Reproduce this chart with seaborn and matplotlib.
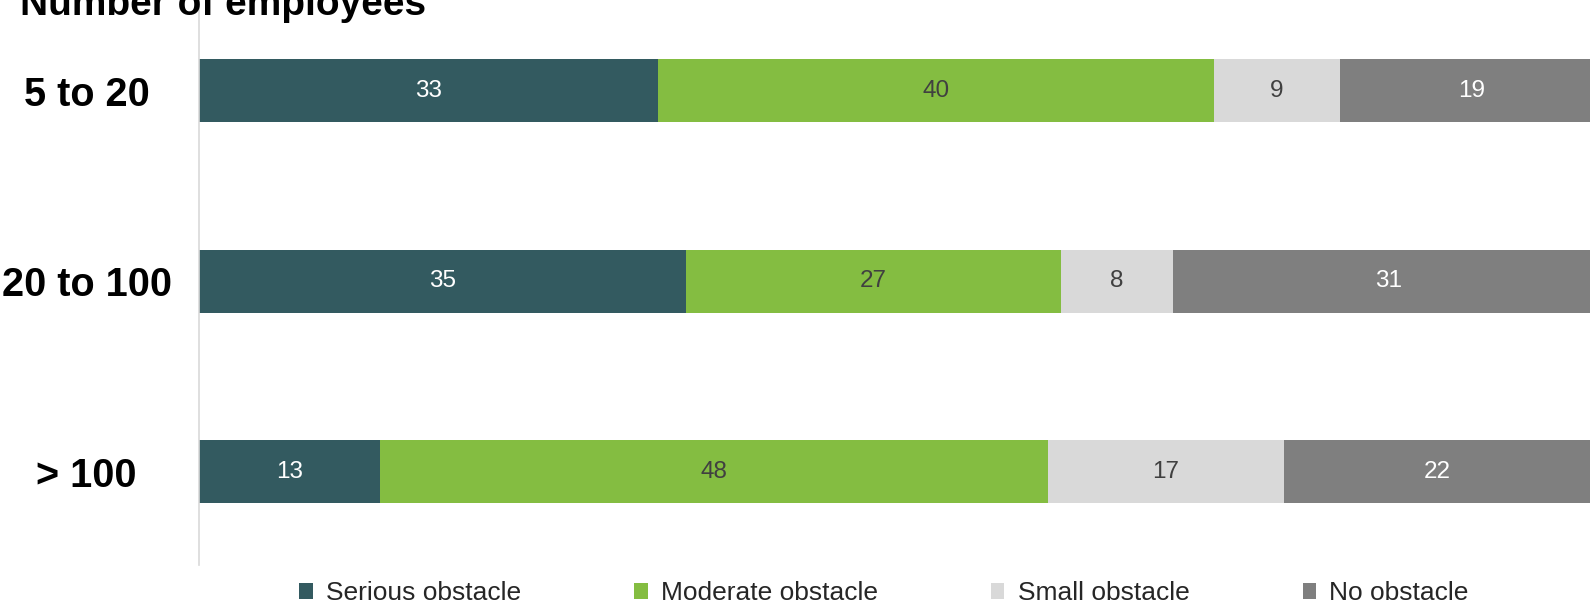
import numpy as np
import pandas as pd
import matplotlib
matplotlib.use("Agg")
import matplotlib.pyplot as plt
from matplotlib.patches import Patch
from matplotlib import font_manager
import seaborn as sns

# ---- data ----
groups = ["5 to 20", "20 to 100", "> 100"]
series = ["Serious obstacle", "Moderate obstacle", "Small obstacle", "No obstacle"]
serious = [33, 35, 13]
moderate = [40, 27, 48]
small = [9, 8, 17]
no_obst = [19, 31, 22]
title = "Number of employees"

colors = ["#335a60", "#84bd41", "#d9d9d9", "#7f7f7f"]
text_colors = ["#ffffff", "#404040", "#404040", "#ffffff"]

sns.set_theme(style="white")
names = {f.name for f in font_manager.fontManager.ttflist}
narrow = "Liberation Sans Narrow" in names
if narrow:
    fam = ["Liberation Sans Narrow", "Liberation Sans", "DejaVu Sans"]
    fs_cat, fs_title, fs_val, fs_leg, colsp = 33, 33, 22, 22, 4.0
else:
    fam = ["Liberation Sans", "DejaVu Sans"]
    fs_cat, fs_title, fs_val, fs_leg, colsp = 28.5, 28, 17.5, 19, 4.3
plt.rcParams["font.family"] = fam

fig = plt.figure(figsize=(15.9, 6.03), dpi=100)
ax = fig.add_axes([199 / 1590, 38 / 603, 1 - 199 / 1590, 565 / 603])

values = [serious, moderate, small, no_obst]
cum = np.cumsum(np.array(values), axis=0)

# draw layers from the largest cumulative down so each segment shows
for i in range(len(series) - 1, -1, -1):
    df = pd.DataFrame({"group": groups, "val": cum[i]})
    sns.barplot(data=df, x="val", y="group", order=groups, orient="h",
                color=colors[i], saturation=1, width=0.33, linewidth=0, ax=ax)

# segment labels
for i in range(len(series)):
    for j, g in enumerate(groups):
        v = values[i][j]
        center = cum[i][j] - v / 2
        ax.text(center, j, str(v), ha="center", va="center",
                color=text_colors[i], fontsize=fs_val)

ax.set_xlim(0, 100)
ax.set_ylim(2.49, -0.475)
ax.set_xlabel("")
ax.set_ylabel("")
ax.set_xticks([])
ax.set_yticks(range(len(groups)))
ax.set_yticklabels(groups, fontsize=fs_cat, fontweight="bold", color="black", ha="center")
ax.tick_params(axis="y", length=0, pad=81)
for s in ["top", "right", "bottom"]:
    ax.spines[s].set_visible(False)
ax.spines["left"].set_color("#d9d9d9")
ax.spines["left"].set_linewidth(1.2)

fig.text(20 / 1590, 1 - 15 / 603, title, ha="left", va="baseline",
         fontsize=fs_title, fontweight="bold", color="black")

handles = [Patch(facecolor=c, edgecolor="none") for c in colors]
fig.legend(handles, series, loc="center", bbox_to_anchor=(0.556, 10 / 603),
           ncol=4, frameon=False, fontsize=fs_leg, handlelength=0.5,
           handleheight=0.55, handletextpad=0.5,
           columnspacing=colsp, borderpad=0, borderaxespad=0)

fig.savefig("out.png", dpi=100)
